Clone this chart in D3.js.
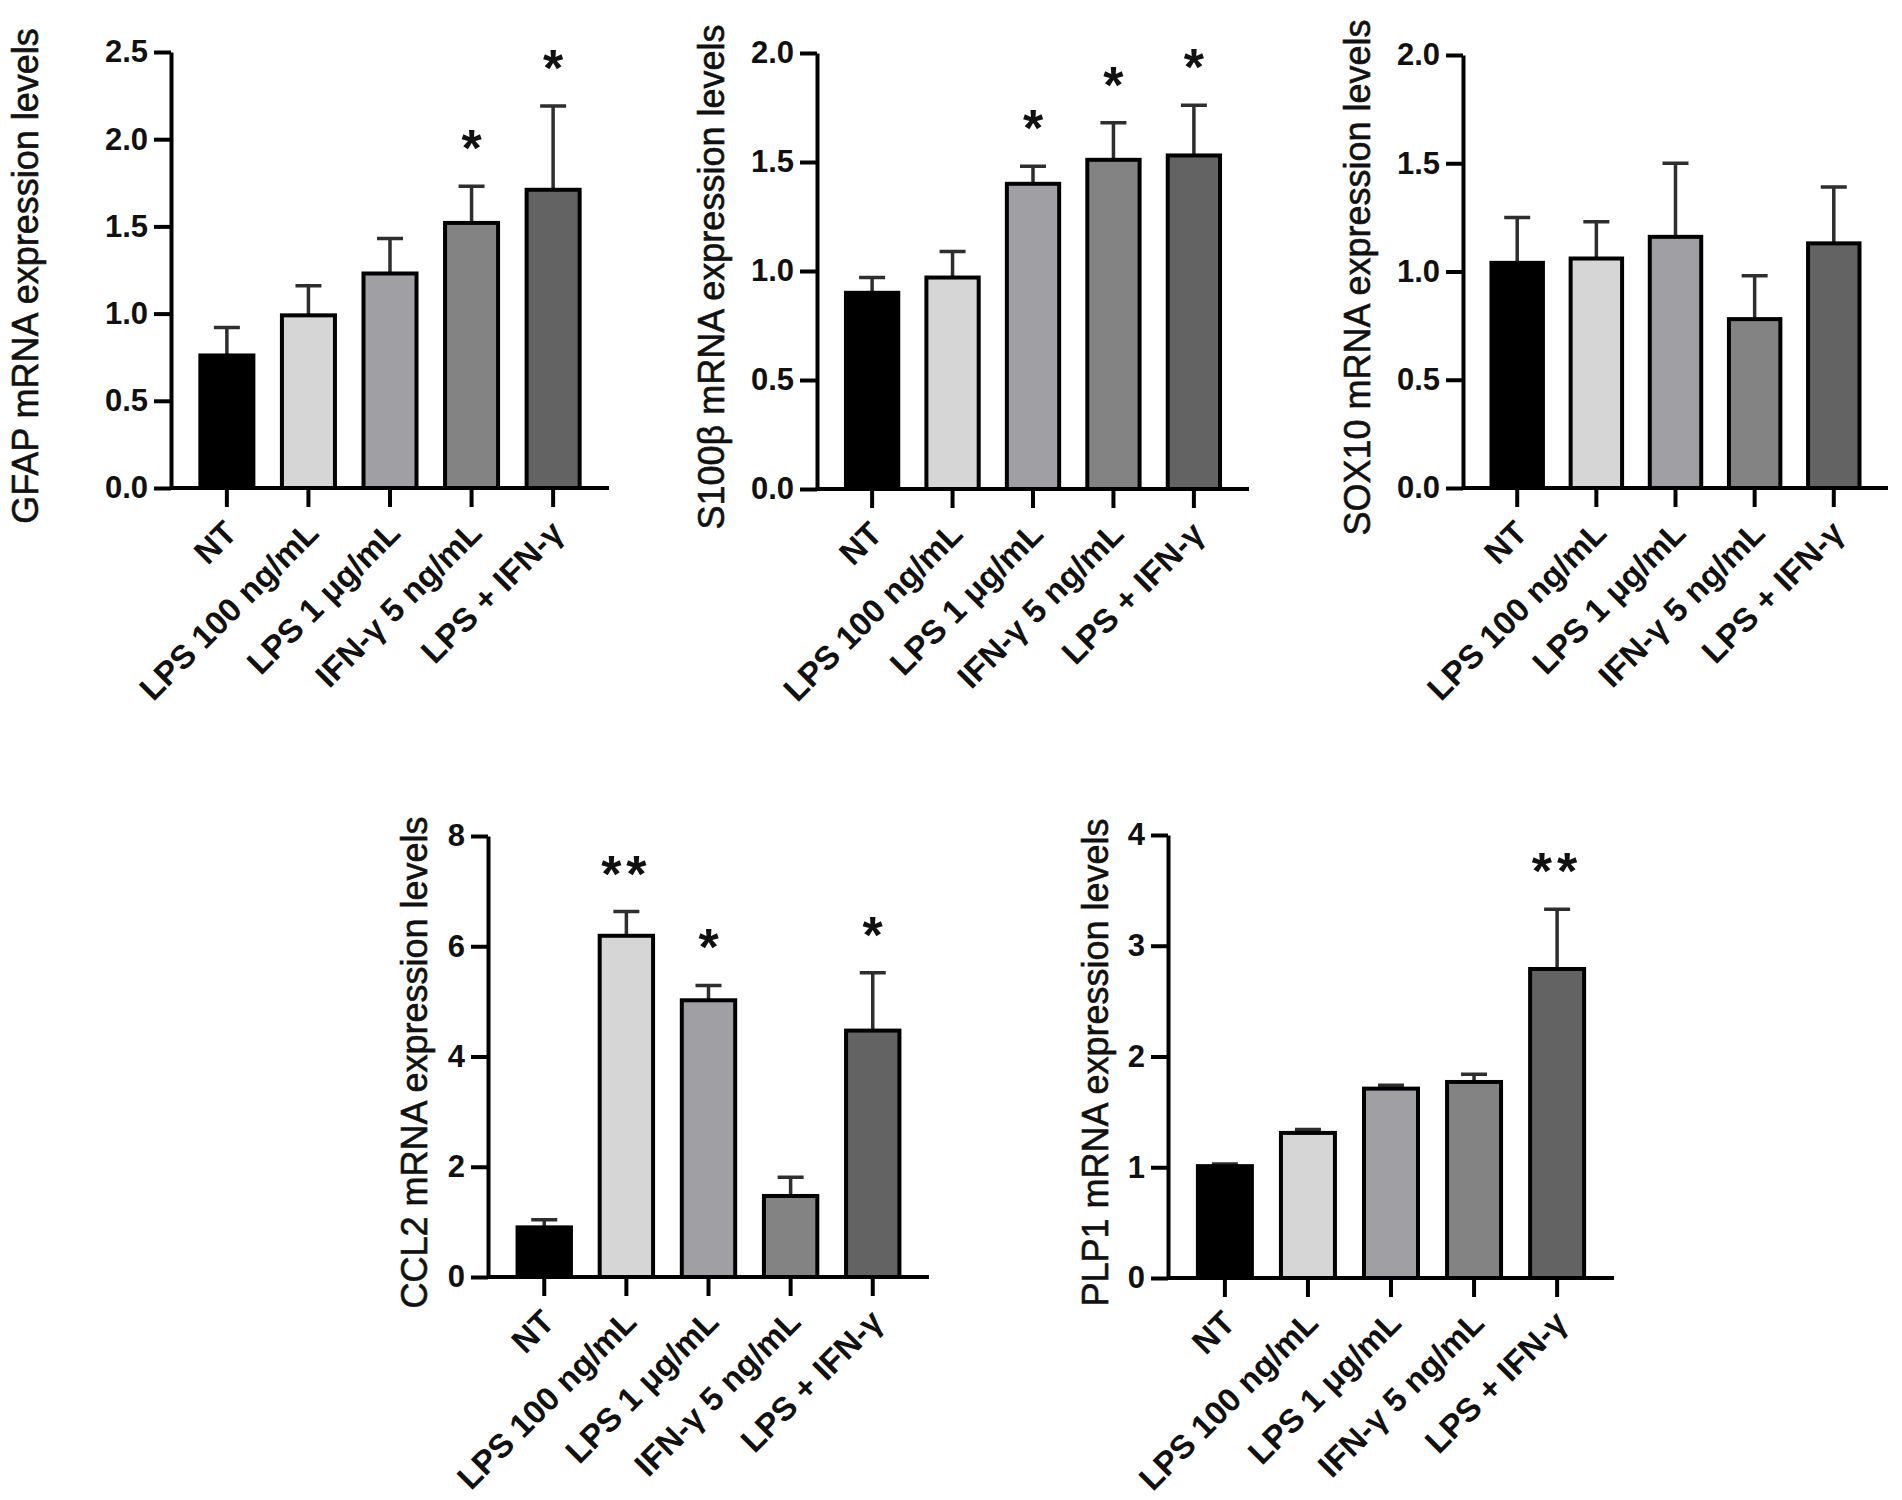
<!DOCTYPE html>
<html>
<head>
<meta charset="utf-8">
<script src="https://cdn.jsdelivr.net/npm/d3@7"></script>
<style>
  body { margin: 0; background: #fff; }
  svg { display: block; }
  text { font-family: 'Liberation Sans', Arial, sans-serif; }
</style>
</head>
<body>
<svg id="canvas" width="1902" height="1500"></svg>
<script>
// treatment groups (same order in every panel)
let groups = ['NT', 'LPS 100 ng/mL', 'LPS 1 μg/mL', 'IFN-γ 5 ng/mL', 'LPS + IFN-γ']
let barColors = ['#000000', '#d6d6d6', '#a0a0a4', '#838383', '#636363']

// mean values and upper error (SEM)
let gfapMean = [0.76, 0.99, 1.23, 1.52, 1.71]
let gfapErr = [0.16, 0.17, 0.20, 0.21, 0.48]
let gfapStars = ['', '', '', '*', '*']

let s100Mean = [0.90, 0.97, 1.40, 1.51, 1.53]
let s100Err = [0.07, 0.12, 0.08, 0.17, 0.23]
let s100Stars = ['', '', '*', '*', '*']

let sox10Mean = [1.04, 1.06, 1.16, 0.78, 1.13]
let sox10Err = [0.21, 0.17, 0.34, 0.20, 0.26]
let sox10Stars = ['', '', '', '', '']

let ccl2Mean = [0.90, 6.19, 5.02, 1.47, 4.47]
let ccl2Err = [0.14, 0.44, 0.27, 0.34, 1.05]
let ccl2Stars = ['', '**', '*', '', '*']

let plp1Mean = [1.01, 1.31, 1.71, 1.77, 2.79]
let plp1Err = [0.02, 0.03, 0.03, 0.07, 0.54]
let plp1Stars = ['', '', '', '', '**']

// y axis ticks per panel
let gfapTicks = [0, 0.5, 1.0, 1.5, 2.0, 2.5]
let s100Ticks = [0, 0.5, 1.0, 1.5, 2.0]
let sox10Ticks = [0, 0.5, 1.0, 1.5, 2.0]
let ccl2Ticks = [0, 2, 4, 6, 8]
let plp1Ticks = [0, 1, 2, 3, 4]

let panels = [
    {title: 'GFAP mRNA expression levels', mean: gfapMean, err: gfapErr, stars: gfapStars, ticks: gfapTicks, fmt: '.1f',
     x: 171, w: 438, top: 52, bottom: 488, titleDx: -146},
    {title: 'S100β mRNA expression levels', mean: s100Mean, err: s100Err, stars: s100Stars, ticks: s100Ticks, fmt: '.1f',
     x: 817, w: 432, top: 53, bottom: 489, titleDx: -106},
    {title: 'SOX10 mRNA expression levels', mean: sox10Mean, err: sox10Err, stars: sox10Stars, ticks: sox10Ticks, fmt: '.1f',
     x: 1463, w: 425, top: 55, bottom: 488, titleDx: -106},
    {title: 'CCL2 mRNA expression levels', mean: ccl2Mean, err: ccl2Err, stars: ccl2Stars, ticks: ccl2Ticks, fmt: 'd',
     x: 488, w: 441, top: 836, bottom: 1277, titleDx: -74},
    {title: 'PLP1 mRNA expression levels', mean: plp1Mean, err: plp1Err, stars: plp1Stars, ticks: plp1Ticks, fmt: 'd',
     x: 1168, w: 446, top: 835, bottom: 1278, titleDx: -73}
]

let canvas = d3.select('#canvas')

let drawPanel = (p) => {
    let g = canvas.append('g')

    let xScale = d3.scaleBand()
                    .domain(groups)
                    .range([p.x, p.x + p.w])
                    .paddingInner(0.35)
                    .paddingOuter(0.36)

    let yScale = d3.scaleLinear()
                    .domain([0, p.ticks[p.ticks.length - 1]])
                    .range([p.bottom, p.top])

    let rows = groups.map((name, i) => {
        return {name: name, mean: p.mean[i], err: p.err[i], star: p.stars[i], color: barColors[i]}
    })

    // error bars (upper only), drawn under the bars
    let cap = 13
    g.selectAll('.err')
        .data(rows)
        .enter()
        .append('path')
        .attr('class', 'err')
        .attr('fill', 'none')
        .attr('stroke', '#2e2e2e')
        .attr('stroke-width', 3.5)
        .attr('d', (d) => {
            let cx = xScale(d.name) + xScale.bandwidth() / 2
            let y0 = yScale(d.mean)
            let y1 = yScale(d.mean + d.err)
            return 'M' + cx + ',' + y0 + 'V' + y1 + 'M' + (cx - cap) + ',' + y1 + 'H' + (cx + cap)
        })

    g.selectAll('.bar')
        .data(rows)
        .enter()
        .append('rect')
        .attr('class', 'bar')
        .attr('x', (d) => xScale(d.name))
        .attr('y', (d) => yScale(d.mean))
        .attr('width', xScale.bandwidth())
        .attr('height', (d) => yScale(0) - yScale(d.mean))
        .attr('fill', (d) => d.color)
        .attr('stroke', '#000')
        .attr('stroke-width', 4)

    // significance marks
    g.selectAll('.star')
        .data(rows.filter((d) => d.star !== ''))
        .enter()
        .append('text')
        .attr('class', 'star')
        .attr('x', (d) => xScale(d.name) + xScale.bandwidth() / 2)
        .attr('y', (d) => yScale(d.mean + d.err) - 20)
        .attr('text-anchor', 'middle')
        .attr('font-size', 52)
        .attr('font-weight', 'bold')
        .attr('letter-spacing', (d) => d.star.length > 1 ? 5 : 0)
        .attr('fill', '#111')
        .text((d) => d.star)

    // y axis
    let yAxis = d3.axisLeft(yScale)
                    .tickValues(p.ticks)
                    .tickFormat(d3.format(p.fmt))
                    .tickSize(17)
                    .tickSizeOuter(0)
                    .tickPadding(6)

    let yg = g.append('g')
                .attr('transform', 'translate(' + p.x + ',0)')
                .call(yAxis)
    yg.selectAll('path, line').attr('stroke', '#000').attr('stroke-width', 4)
    yg.selectAll('text')
        .attr('font-size', 31)
        .attr('font-weight', 'bold')
        .attr('fill', '#111')
        .attr('font-family', "'Liberation Sans', Arial, sans-serif")

    // x axis
    let xAxis = d3.axisBottom(xScale)
                    .tickSize(19)
                    .tickSizeOuter(0)
                    .tickPadding(8)

    let xg = g.append('g')
                .attr('transform', 'translate(0,' + p.bottom + ')')
                .call(xAxis)
    xg.select('.domain').attr('d', 'M' + p.x + ',0H' + (p.x + p.w))
    xg.selectAll('path, line').attr('stroke', '#000').attr('stroke-width', 4)
    xg.selectAll('text')
        .attr('font-size', 33)
        .attr('font-weight', 'bold')
        .attr('fill', '#111')
        .attr('font-family', "'Liberation Sans', Arial, sans-serif")
        .attr('text-anchor', 'end')
        .attr('dy', 0)
        .attr('transform', 'translate(12,47) rotate(-45)')
        .attr('y', 0)

    // y axis title
    g.append('text')
        .attr('transform', 'translate(' + (p.x + p.titleDx) + ',' + ((p.top + p.bottom) / 2 + 6) + ') rotate(-90)')
        .attr('text-anchor', 'middle')
        .attr('dominant-baseline', 'central')
        .attr('font-size', 36)
        .attr('fill', '#111')
        .attr('stroke', '#111')
        .attr('stroke-width', 0.6)
        .text(p.title)
}

panels.forEach((p) => {
    drawPanel(p)
})
</script>
</body>
</html>
